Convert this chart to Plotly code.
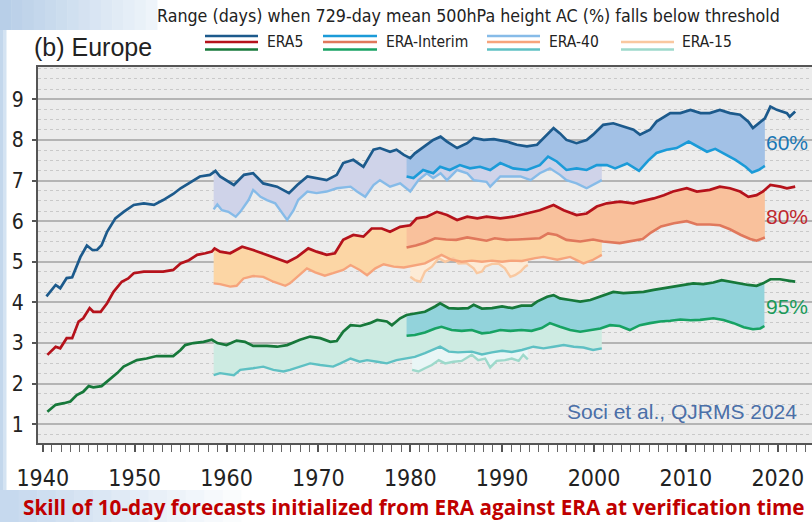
import numpy as np
import plotly.graph_objects as go

# ---------------- data (year, days) ----------------
ERA5_60 = [(1940.4,4.15),(1941.4,4.43),(1941.9,4.35),(1942.6,4.6),(1943.2,4.62),(1943.5,4.8),(1944.1,5.12),(1944.8,5.4),(1945.4,5.29),(1945.9,5.29),(1946.4,5.41),(1947.0,5.74),(1947.9,6.07),(1948.8,6.23),(1949.9,6.4),(1951.0,6.44),(1952.1,6.4),(1953.1,6.52),(1954.2,6.67),(1955.0,6.81),(1956.0,6.95),(1957.1,7.1),(1958.2,7.14),(1958.8,7.24),(1959.3,7.1),(1960.8,6.89),(1961.9,7.14),(1962.9,7.18),(1964.0,6.93),(1965.5,6.85),(1966.8,6.69),(1967.7,6.89),(1968.8,7.1),(1969.8,7.06),(1970.9,7.01),(1972.0,7.14),(1972.7,7.43),(1973.8,7.51),(1974.9,7.34),(1976.0,7.76),(1976.7,7.8),(1977.8,7.71),(1978.5,7.76),(1979.3,7.63),(1980.0,7.55),(1980.5,7.67),(1981.8,7.88),(1982.5,8.0),(1983.3,8.08),(1984.0,7.96),(1985.1,7.8),(1986.2,7.92),(1986.9,8.05),(1988.0,8.0),(1989.1,8.02),(1990.5,7.96),(1991.6,7.88),(1992.7,7.84),(1993.8,7.88),(1994.9,8.13),(1995.6,8.29),(1996.3,8.16),(1997.0,8.0),(1998.1,7.92),(1999.2,8.0),(1999.9,8.13),(2001.0,8.37),(2002.1,8.41),(2003.2,8.33),(2004.3,8.25),(2005.0,8.13),(2006.1,8.25),(2006.8,8.45),(2007.6,8.57),(2008.3,8.66),(2009.4,8.66),(2010.5,8.74),(2011.6,8.66),(2012.6,8.66),(2013.7,8.74),(2014.8,8.66),(2015.9,8.62),(2016.8,8.45),(2017.3,8.29),(2018.1,8.45),(2018.6,8.53),(2019.2,8.82),(2019.9,8.74),(2021.0,8.66),(2021.3,8.57),(2021.9,8.7)]
ERAI_60 = [(1979.6,7.1),(1980.35,7.06),(1981.4,7.26),(1982.5,7.18),(1983.25,7.34),(1984.3,7.26),(1985.4,7.38),(1986.5,7.3),(1987.6,7.34),(1988.7,7.26),(1989.8,7.43),(1991.2,7.3),(1992.7,7.26),(1994.1,7.38),(1995.0,7.59),(1995.95,7.47),(1997.0,7.26),(1998.1,7.3),(1999.2,7.26),(2000.3,7.38),(2001.4,7.38),(2002.3,7.3),(2003.6,7.42),(2004.9,7.24),(2005.9,7.49),(2006.8,7.68),(2007.9,7.76),(2009.0,7.8),(2010.3,7.96),(2011.2,7.84),(2012.3,7.71),(2013.2,7.78),(2014.3,7.65),(2015.4,7.51),(2016.5,7.34),(2017.2,7.2),(2017.9,7.26),(2018.6,7.36)]
ERA40_60 = [(1958.6,6.29),(1959.0,6.41),(1959.5,6.27),(1960.2,6.23),(1961.0,6.11),(1961.5,6.23),(1962.4,6.52),(1962.9,6.77),(1963.7,6.6),(1964.4,6.52),(1965.3,6.44),(1966.0,6.23),(1966.6,6.03),(1967.3,6.27),(1967.8,6.52),(1968.8,6.73),(1969.8,6.69),(1970.9,6.73),(1972.0,6.81),(1973.5,6.85),(1974.2,6.73),(1975.1,6.6),(1976.0,6.89),(1976.7,7.01),(1977.8,6.85),(1978.9,6.93),(1980.0,6.73),(1980.9,7.01),(1981.8,7.18),(1982.5,7.06),(1983.3,7.18),(1984.0,7.01),(1985.1,7.26),(1986.2,7.18),(1986.9,7.01),(1988.3,6.97),(1988.7,6.85),(1989.8,7.1),(1990.9,7.1),(1992.0,7.1),(1993.1,7.01),(1994.1,7.18),(1995.2,7.3),(1996.3,7.14),(1997.0,7.01),(1998.1,6.93),(1999.2,6.81),(1999.9,6.89),(2000.85,7.01)]

ERA5_80 = [(1940.5,2.71),(1941.4,2.91),(1941.9,2.87),(1942.6,3.12),(1943.2,3.12),(1943.9,3.53),(1944.4,3.61),(1945.1,3.86),(1945.5,3.77),(1946.3,3.77),(1947.0,3.98),(1947.7,4.26),(1948.6,4.51),(1949.3,4.59),(1949.9,4.72),(1951.0,4.76),(1952.1,4.76),(1953.1,4.76),(1954.2,4.8),(1955.0,4.96),(1955.9,5.04),(1956.8,5.17),(1957.7,5.21),(1958.4,5.25),(1958.7,5.33),(1959.3,5.25),(1960.4,5.21),(1961.7,5.37),(1962.9,5.29),(1964.4,5.17),(1965.5,5.08),(1966.6,4.99),(1967.7,5.12),(1968.9,5.33),(1969.8,5.25),(1970.9,5.17),(1971.8,5.21),(1972.7,5.54),(1973.8,5.66),(1974.9,5.62),(1975.8,5.82),(1976.9,5.82),(1977.8,5.74),(1978.9,5.86),(1980.0,5.9),(1980.7,6.07),(1981.8,6.11),(1982.9,6.23),(1984.0,6.15),(1985.1,6.03),(1986.2,6.11),(1987.3,6.07),(1988.3,6.11),(1989.8,6.07),(1991.2,6.11),(1992.7,6.19),(1994.1,6.27),(1995.6,6.4),(1996.7,6.27),(1998.1,6.15),(1999.2,6.19),(2000.3,6.36),(2001.4,6.44),(2002.8,6.48),(2004.3,6.44),(2005.0,6.48),(2006.5,6.56),(2007.6,6.64),(2008.6,6.73),(2010.1,6.81),(2011.2,6.73),(2012.6,6.77),(2013.7,6.85),(2014.8,6.81),(2015.9,6.73),(2016.8,6.6),(2017.7,6.64),(2018.4,6.73),(2019.2,6.89),(2020.3,6.85),(2021.0,6.81),(2021.9,6.85)]
ERAI_80 = [(1979.6,5.35),(1980.6,5.4),(1981.6,5.47),(1982.7,5.58),(1983.9,5.55),(1985.0,5.54),(1986.2,5.6),(1987.2,5.57),(1988.3,5.52),(1989.2,5.58),(1990.5,5.54),(1991.7,5.55),(1992.7,5.56),(1994.1,5.58),(1995.0,5.7),(1995.95,5.66),(1997.0,5.54),(1998.5,5.5),(1999.9,5.55),(2001.0,5.5),(2002.8,5.46),(2003.9,5.5),(2005.3,5.56),(2006.2,5.72),(2007.3,5.87),(2008.7,5.95),(2010.1,6.0),(2011.2,5.92),(2012.6,5.92),(2013.7,5.9),(2014.8,5.8),(2016.0,5.66),(2017.0,5.56),(2017.7,5.52),(2018.6,5.6)]
ERA40_80 = [(1958.6,4.47),(1959.3,4.45),(1960.4,4.39),(1961.1,4.41),(1961.85,4.59),(1962.9,4.65),(1964.0,4.63),(1965.1,4.51),(1966.4,4.41),(1966.9,4.47),(1967.7,4.63),(1968.75,4.84),(1969.65,4.74),(1970.7,4.66),(1971.6,4.72),(1972.7,4.8),(1973.5,4.92),(1974.5,4.8),(1975.3,4.67),(1976.2,4.84),(1977.1,4.94),(1978.2,4.88),(1979.3,4.86),(1980.35,4.9),(1981.6,4.96),(1982.7,5.09),(1983.4,5.17),(1984.5,5.05),(1985.6,5.0),(1986.7,5.03),(1987.8,5.0),(1988.9,5.03),(1990.0,5.0),(1991.05,5.03),(1992.15,5.02),(1993.6,5.09),(1994.5,5.12),(1996.0,5.05),(1997.4,5.12),(1998.85,4.96),(1999.9,5.05),(2000.85,5.17)]
ERA15_80 = [(1980.0,4.63),(1980.5,4.55),(1981.1,4.51),(1981.6,4.76),(1982.35,4.88),(1983.1,5.09),(1983.8,5.0),(1984.7,5.09),(1985.25,4.96),(1986.1,4.97),(1986.9,4.84),(1987.25,4.72),(1987.8,4.76),(1988.15,4.88),(1988.9,4.95),(1989.6,4.96),(1990.3,4.84),(1990.9,4.63),(1991.4,4.67),(1992.0,4.76),(1992.5,4.88),(1992.8,4.92)]

ERA5_95 = [(1940.5,1.31),(1941.4,1.48),(1942.3,1.52),(1943.0,1.56),(1943.7,1.72),(1944.4,1.8),(1945.0,1.94),(1945.5,1.91),(1946.4,1.94),(1947.2,2.09),(1948.1,2.26),(1948.8,2.42),(1949.5,2.5),(1950.25,2.58),(1951.3,2.62),(1952.4,2.68),(1953.5,2.68),(1954.2,2.68),(1955.0,2.83),(1955.5,2.95),(1956.4,3.0),(1957.5,3.03),(1958.4,3.08),(1959.0,3.0),(1960.0,2.95),(1961.1,3.06),(1962.0,3.03),(1962.9,2.93),(1964.4,2.93),(1965.5,2.91),(1966.6,2.95),(1968.0,3.08),(1969.1,3.16),(1970.2,3.12),(1971.3,3.03),(1972.0,3.05),(1972.7,3.28),(1973.5,3.44),(1974.55,3.42),(1975.6,3.49),(1976.4,3.57),(1977.45,3.53),(1978.0,3.44),(1978.9,3.61),(1979.6,3.69),(1980.5,3.73),(1981.6,3.77),(1982.7,3.9),(1983.25,3.98),(1984.2,3.86),(1985.2,3.85),(1986.3,3.86),(1986.9,3.94),(1987.8,3.85),(1988.9,3.86),(1990.0,3.9),(1991.1,3.86),(1992.1,3.92),(1993.2,3.92),(1993.8,4.02),(1994.9,4.14),(1995.6,4.18),(1996.3,4.1),(1997.4,4.06),(1998.5,4.02),(1999.6,4.06),(2000.7,4.14),(2002.1,4.26),(2003.2,4.23),(2004.3,4.24),(2005.4,4.26),(2006.5,4.31),(2007.55,4.35),(2008.6,4.39),(2009.7,4.43),(2010.8,4.47),(2011.9,4.45),(2013.0,4.49),(2013.9,4.55),(2014.8,4.51),(2015.9,4.47),(2016.8,4.43),(2017.7,4.41),(2018.4,4.47),(2019.2,4.57),(2020.25,4.57),(2021.3,4.53),(2021.9,4.51)]
ERAI_95 = [(1979.6,3.18),(1980.5,3.2),(1981.6,3.26),(1982.7,3.36),(1983.4,3.4),(1984.5,3.32),(1985.6,3.3),(1986.7,3.32),(1987.8,3.24),(1988.7,3.26),(1989.8,3.32),(1990.9,3.3),(1992.1,3.32),(1993.2,3.3),(1994.3,3.37),(1995.2,3.49),(1996.3,3.4),(1997.4,3.32),(1998.5,3.28),(1999.6,3.32),(2000.7,3.36),(2001.75,3.44),(2002.8,3.42),(2003.9,3.32),(2005.0,3.44),(2006.1,3.49),(2007.2,3.53),(2008.3,3.55),(2009.4,3.58),(2010.5,3.56),(2011.55,3.57),(2013.0,3.61),(2014.1,3.57),(2015.2,3.49),(2016.3,3.39),(2017.3,3.34),(2018.1,3.36),(2018.55,3.42)]
ERA40_95 = [(1958.6,2.21),(1959.3,2.26),(1960.8,2.21),(1961.5,2.34),(1962.9,2.38),(1964.0,2.42),(1965.1,2.34),(1966.2,2.3),(1966.9,2.34),(1968.0,2.42),(1969.1,2.5),(1970.2,2.46),(1971.6,2.42),(1972.4,2.5),(1973.5,2.62),(1974.5,2.54),(1975.3,2.58),(1976.4,2.54),(1977.45,2.5),(1978.5,2.58),(1979.4,2.62),(1980.5,2.66),(1981.6,2.75),(1982.7,2.87),(1983.25,2.91),(1984.2,2.79),(1985.2,2.77),(1986.7,2.79),(1987.8,2.72),(1988.9,2.77),(1990.0,2.81),(1991.05,2.78),(1992.15,2.83),(1993.4,2.91),(1994.5,2.87),(1995.6,2.91),(1996.7,2.95),(1997.8,2.91),(1998.85,2.89),(1999.9,2.83),(2000.85,2.87)]
ERA15_95 = [(1980.2,2.34),(1980.9,2.3),(1981.6,2.38),(1982.35,2.46),(1983.1,2.58),(1983.8,2.5),(1984.7,2.54),(1985.6,2.56),(1986.7,2.71),(1987.4,2.58),(1988.15,2.62),(1988.7,2.4),(1989.4,2.56),(1990.3,2.58),(1991.05,2.62),(1991.8,2.56),(1992.3,2.71),(1992.8,2.6)]

X_TICKS = [1940, 1950, 1960, 1970, 1980, 1990, 2000, 2010, 2020]
Y_TICKS = [1, 2, 3, 4, 5, 6, 7, 8, 9]

# ---------------- styling ----------------
C = {
    "e5_60": "#1c5a8c", "ei_60": "#1b9bd8", "e40_60": "#86bbe8",
    "f_ei_60": "#a2c1e6", "f_e40_60": "#cfd3e9",
    "e5_80": "#b5121b", "ei_80": "#e0785c", "e40_80": "#f6a47c", "e15_80": "#f9c8a0",
    "f_ei_80": "#f9c19c", "f_e40_80": "#fcd6a5", "f_e15_80": "#fdebd6",
    "e5_95": "#16783a", "ei_95": "#17a263", "e40_95": "#5ec0c3", "e15_95": "#9dd9cb",
    "f_ei_95": "#92d3db", "f_e40_95": "#cdebe2", "f_e15_95": "#e9f6f6",
}

W, H = 812, 522
L, R, T, B = 38, 812, 67, 443
COND = "DejaVu Sans Condensed, Liberation Sans Narrow, sans-serif"
SANS = "Liberation Sans, Arial, sans-serif"


def PX(x):
    return (x - L) / (R - L)


def PY(y):
    return (B - y) / (B - T)


def xy(pairs):
    a = np.array(pairs, dtype=float)
    return a[:, 0], a[:, 1]


def band(upper, lower):
    ux, uy = xy(upper)
    lx, ly = xy(lower)
    x0, x1 = lx[0], lx[-1]
    m = (ux > x0) & (ux < x1)
    tx = np.concatenate([[x0], ux[m], [x1]])
    ty = np.concatenate([[np.interp(x0, ux, uy)], uy[m], [np.interp(x1, ux, uy)]])
    return np.concatenate([tx, lx[::-1]]), np.concatenate([ty, ly[::-1]])


fig = go.Figure()

# fills (lowest first)
for upper, lower, col in [
    (ERA5_60, ERA40_60, C["f_e40_60"]), (ERA5_60, ERAI_60, C["f_ei_60"]),
    (ERA5_80, ERA15_80, C["f_e15_80"]), (ERA5_80, ERA40_80, C["f_e40_80"]), (ERA5_80, ERAI_80, C["f_ei_80"]),
    (ERA5_95, ERA15_95, C["f_e15_95"]), (ERA5_95, ERA40_95, C["f_e40_95"]), (ERA5_95, ERAI_95, C["f_ei_95"]),
]:
    bx, by = band(upper, lower)
    fig.add_trace(go.Scatter(x=bx, y=by, mode="lines", fill="toself", fillcolor=col,
                             line=dict(width=0), hoverinfo="skip", showlegend=False))

# lines
for data, col, w in [
    (ERA15_80, C["e15_80"], 2.4), (ERA15_95, C["e15_95"], 2.4),
    (ERA40_60, C["e40_60"], 2.4), (ERA40_80, C["e40_80"], 2.4), (ERA40_95, C["e40_95"], 2.4),
    (ERAI_60, C["ei_60"], 2.6), (ERAI_80, C["ei_80"], 2.6), (ERAI_95, C["ei_95"], 2.6),
    (ERA5_60, C["e5_60"], 2.7), (ERA5_80, C["e5_80"], 2.7), (ERA5_95, C["e5_95"], 2.7),
]:
    dx, dy = xy(data)
    fig.add_trace(go.Scatter(x=dx, y=dy, mode="lines", line=dict(color=col, width=w),
                             hoverinfo="skip", showlegend=False))

shapes = []


def grad_rect(x0, x1, y0, y1, c0, c1, n=14):
    c0 = np.array([int(c0[i:i+2], 16) for i in (1, 3, 5)], float)
    c1 = np.array([int(c1[i:i+2], 16) for i in (1, 3, 5)], float)
    for i in range(n):
        f = i / (n - 1)
        c = (c0 * (1 - f) + c1 * f).astype(int)
        xa = x0 + (x1 - x0) * i / n
        xb = x0 + (x1 - x0) * (i + 1) / n + 0.5
        shapes.append(dict(type="rect", xref="paper", yref="paper", layer="below",
                           x0=PX(xa), x1=PX(xb), y0=PY(y1), y1=PY(y0),
                           fillcolor="rgb(%d,%d,%d)" % tuple(c), line=dict(width=0)))


grad_rect(0, 157, 0, 30, "#b8cfe8", "#eef4fa")
grad_rect(0, 6, 30, 490, "#c3d7ec", "#d4e3f2", n=2)
grad_rect(0, 260, 490, 522, "#c6d9ee", "#ffffff")

# legend lines
leg = [
    (205, 258, [(36, C["e5_60"]), (42, C["e5_80"]), (49.5, C["e5_95"])]),
    (323, 377, [(36, C["ei_60"]), (42, C["ei_80"]), (49.5, C["ei_95"])]),
    (487, 540, [(36, C["e40_60"]), (42, C["e40_80"]), (49.5, C["e40_95"])]),
    (621, 674, [(42, C["e15_80"]), (49.5, C["e15_95"])]),
]
for x0, x1, rows in leg:
    for yy, col in rows:
        shapes.append(dict(type="line", xref="paper", yref="paper", x0=PX(x0), x1=PX(x1),
                           y0=PY(yy), y1=PY(yy), line=dict(color=col, width=2.6)))

annotations = []


def txt(s, x, y, size, color="#222", family=COND, xanchor="left", bold=False):
    annotations.append(dict(text=("<b>%s</b>" % s) if bold else s, x=PX(x), y=PY(y),
                            xref="paper", yref="paper", xanchor=xanchor, yanchor="middle",
                            showarrow=False, font=dict(size=size, color=color, family=family)))


txt("Range (days) when 729-day mean 500hPa height AC (%) falls below threshold", 469, 16, 17.7, xanchor="center")
txt("(b) Europe", 32, 47, 25, family=SANS)
txt("ERA5", 265, 42, 15.5)
txt("ERA-Interim", 384, 42, 15.5)
txt("ERA-40", 547, 42, 15.5)
txt("ERA-15", 680, 42, 15.5)
txt("60%", 810, 142, 21, color="#1a77b5", family=SANS, xanchor="right")
txt("80%", 810, 216, 21, color="#c0272d", family=SANS, xanchor="right")
txt("95%", 810, 306, 21, color="#1a9a5a", family=SANS, xanchor="right")
txt("Soci et al., QJRMS 2024", 799, 411, 21, color="#4a6fa8", family=SANS, xanchor="right")
txt("Skill of 10-day forecasts initialized from ERA against ERA at verification time", 413, 507, 20.7,
    color="#c00000", family="Open Sans, Lato, sans-serif", xanchor="center", bold=True)

fig.update_layout(
    width=W, height=H,
    margin=dict(l=L, r=W - R, t=T, b=H - B, pad=0),
    paper_bgcolor="white", plot_bgcolor="#ececec",
    shapes=shapes, annotations=annotations, showlegend=False,
    xaxis=dict(range=[1939.48, 2023.73], tickvals=X_TICKS, ticks="outside", ticklen=7, tickwidth=1.5,
               tickcolor="#555", showgrid=False, zeroline=False, showline=True, linecolor="#555",
               linewidth=2, mirror=True,
               minor=dict(dtick=1, tick0=1940, ticks="outside", ticklen=7, tickwidth=1.2, tickcolor="#666"),
               tickfont=dict(family=COND, size=23, color="#222"), ticklabelstandoff=6),
    yaxis=dict(range=[0.54, 9.795], tickvals=Y_TICKS, ticks="outside", ticklen=4, tickwidth=1.5,
               tickcolor="#555", showgrid=True, gridcolor="#b4b4b4", gridwidth=1.5, zeroline=False,
               showline=True, linecolor="#555", linewidth=2,
               minor=dict(dtick=0.25, tick0=0, showgrid=True, gridcolor="#c9c9c9", gridwidth=1, griddash="dot"),
               tickfont=dict(family=COND, size=21, color="#222"), ticklabelstandoff=4),
)

fig.write_html("out.html", config={"displayModeBar": False},
               post_script="document.body.style.margin='0';document.body.style.overflow='hidden';")
